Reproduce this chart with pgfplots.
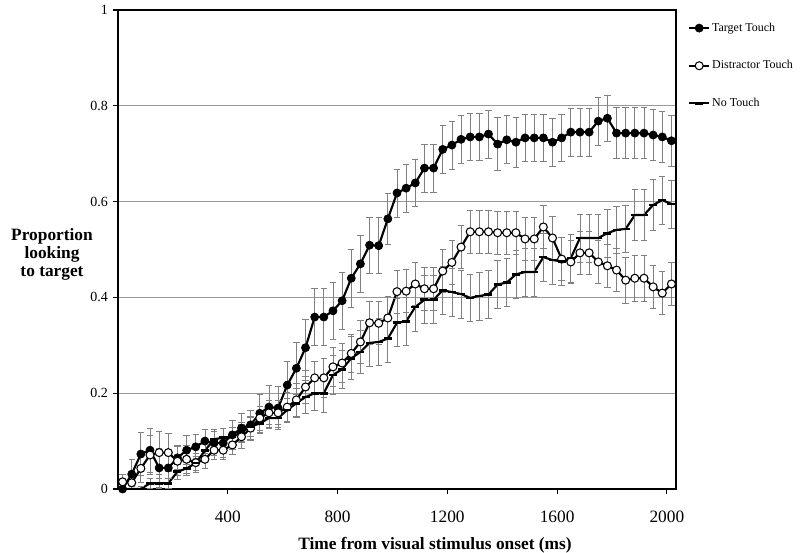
\documentclass[border=0pt]{standalone}
\usepackage{fontspec}
\setmainfont{Liberation Serif}
\usepackage{pgfplots}
\usepackage{pgfplotstable}
\pgfplotsset{compat=1.18}

% t = ms, T/D/N = Target / Distractor / No touch, *e = error
\pgfplotstableread{
t      T     Te    D     De    N     Ne
16.7   0.000 0.010 0.015 0.015 0.000 0.005
50.0   0.031 0.030 0.013 0.015 0.000 0.005
83.3   0.073 0.045 0.043 0.030 0.000 0.005
116.7  0.081 0.046 0.071 0.040 0.012 0.010
150.0  0.044 0.040 0.076 0.045 0.012 0.010
183.3  0.044 0.035 0.076 0.040 0.012 0.010
216.7  0.065 0.025 0.058 0.030 0.036 0.015
250.0  0.081 0.030 0.062 0.030 0.043 0.015
283.3  0.088 0.025 0.055 0.020 0.054 0.015
316.7  0.100 0.025 0.062 0.020 0.080 0.020
350.0  0.096 0.025 0.081 0.020 0.104 0.020
383.3  0.096 0.030 0.081 0.020 0.107 0.020
416.7  0.113 0.030 0.092 0.020 0.109 0.020
450.0  0.127 0.030 0.109 0.025 0.119 0.020
483.3  0.134 0.030 0.127 0.025 0.130 0.020
516.7  0.158 0.040 0.148 0.025 0.137 0.020
550.0  0.171 0.045 0.159 0.025 0.148 0.020
583.3  0.169 0.045 0.159 0.025 0.148 0.020
616.7  0.217 0.050 0.171 0.030 0.165 0.025
650.0  0.252 0.055 0.186 0.035 0.179 0.030
683.3  0.295 0.060 0.213 0.035 0.192 0.035
716.7  0.359 0.060 0.232 0.035 0.200 0.035
750.0  0.359 0.060 0.232 0.040 0.200 0.040
783.3  0.372 0.060 0.255 0.040 0.238 0.040
816.7  0.393 0.060 0.263 0.040 0.250 0.040
850.0  0.440 0.060 0.283 0.040 0.273 0.045
883.3  0.470 0.060 0.307 0.045 0.286 0.045
916.7  0.509 0.058 0.347 0.045 0.305 0.050
950.0  0.508 0.058 0.346 0.045 0.307 0.050
983.3  0.564 0.053 0.357 0.045 0.314 0.050
1016.7 0.618 0.050 0.412 0.045 0.347 0.050
1050.0 0.628 0.050 0.413 0.045 0.350 0.050
1083.3 0.639 0.050 0.428 0.045 0.380 0.050
1116.7 0.670 0.050 0.418 0.045 0.395 0.050
1150.0 0.670 0.050 0.418 0.045 0.395 0.050
1183.3 0.709 0.050 0.455 0.045 0.415 0.050
1216.7 0.718 0.050 0.473 0.045 0.411 0.050
1250.0 0.730 0.050 0.505 0.045 0.407 0.050
1283.3 0.735 0.050 0.537 0.045 0.399 0.050
1316.7 0.735 0.050 0.537 0.045 0.403 0.050
1350.0 0.741 0.050 0.537 0.045 0.406 0.050
1383.3 0.720 0.055 0.535 0.045 0.427 0.050
1416.7 0.729 0.050 0.535 0.045 0.431 0.050
1450.0 0.724 0.052 0.535 0.045 0.448 0.050
1483.3 0.733 0.050 0.522 0.045 0.453 0.050
1516.7 0.733 0.050 0.522 0.045 0.453 0.050
1550.0 0.733 0.050 0.547 0.045 0.484 0.050
1583.3 0.724 0.050 0.524 0.045 0.478 0.050
1616.7 0.733 0.050 0.480 0.045 0.475 0.050
1650.0 0.745 0.050 0.474 0.045 0.482 0.050
1683.3 0.745 0.050 0.493 0.045 0.524 0.050
1716.7 0.745 0.050 0.493 0.045 0.524 0.050
1750.0 0.768 0.050 0.474 0.045 0.524 0.050
1783.3 0.774 0.048 0.466 0.045 0.534 0.050
1816.7 0.743 0.053 0.457 0.045 0.541 0.050
1850.0 0.743 0.053 0.436 0.048 0.543 0.050
1883.3 0.743 0.053 0.440 0.048 0.572 0.053
1916.7 0.743 0.053 0.440 0.048 0.572 0.053
1950.0 0.739 0.053 0.422 0.045 0.593 0.053
1983.3 0.735 0.053 0.409 0.045 0.603 0.050
2016.7 0.727 0.053 0.428 0.045 0.595 0.050
}\looking

\pgfplotsset{
  ebars/.style={
    error bars/.cd, y dir=both, y explicit,
    error bar style={line width=0.6pt, color=black!50},
    error mark options={rotate=90, mark size=2.4pt, line width=0.6pt, color=black!50},
  },
}

\begin{document}
\begin{tikzpicture}
\useasboundingbox (-88.5pt,-48pt) rectangle (511.5pt,366.75pt);
\begin{axis}[
  at={(0,0)}, anchor=south west,
  scale only axis, width=418.5pt, height=359.25pt,
  xmin=0, xmax=2033.3, ymin=0, ymax=1,
  xtick={400,800,1200,1600,2000},
  xticklabels={400,800,1200,1600,2000},
  ytick={0,0.2,0.4,0.6,0.8,1},
  yticklabels={0,0.2,0.4,0.6,0.8,1},
  ymajorgrids,
  grid style={black!40, line width=0.6pt},
  axis line style={black, line width=0.9pt},
  tick style={black, line width=0.8pt},
  tick align=outside, major tick length=4pt,
  xtick pos=bottom, ytick pos=left,
  /pgf/number format/assume math mode=true,
  x tick label style={font=\fontsize{13}{13}\selectfont, yshift=-9pt},
  y tick label style={font=\fontsize{10.5}{10.5}\selectfont},
  xlabel={Time from visual stimulus onset (ms)},
  xlabel style={font=\fontsize{13}{13}\selectfont\bfseries,
    at={(axis description cs:0.568,0)}, anchor=center, yshift=-42pt},
  ylabel={Proportion\\looking\\to target},
  ylabel style={font=\fontsize{13}{13.5}\selectfont\bfseries, rotate=-90, align=center,
    at={(axis description cs:0,0.49)}, anchor=center, xshift=-49.5pt},
  legend style={at={(axis description cs:1,1)}, anchor=north west,
    xshift=6pt, yshift=-6pt, draw=none, fill=none,
    font=\fontsize{9}{9}\selectfont, row sep=17.5pt,
    nodes={inner sep=1.5pt}},
  legend cell align=left,
  legend image code/.code={\draw[mark repeat=2,mark phase=2]
    plot coordinates {(0cm,0cm) (0.26cm,0cm) (0.52cm,0cm)};},
]
\addplot[black, line width=1.6pt, mark=*, mark size=3pt,
  mark options={fill=black, line width=0.6pt}, ebars]
  table[x=t, y=T, y error=Te] {\looking};
\addlegendentry{Target Touch}
\addplot[black, line width=1.6pt, mark=*, mark size=3pt,
  mark options={fill=white, draw=black, line width=0.8pt}, ebars]
  table[x=t, y=D, y error=De] {\looking};
\addlegendentry{Distractor Touch}
\addplot[black, line width=1.6pt, mark=-, mark size=3pt,
  mark options={line width=2pt}, ebars]
  table[x=t, y=N, y error=Ne] {\looking};
\addlegendentry{No Touch}
\end{axis}
\end{tikzpicture}
\end{document}
